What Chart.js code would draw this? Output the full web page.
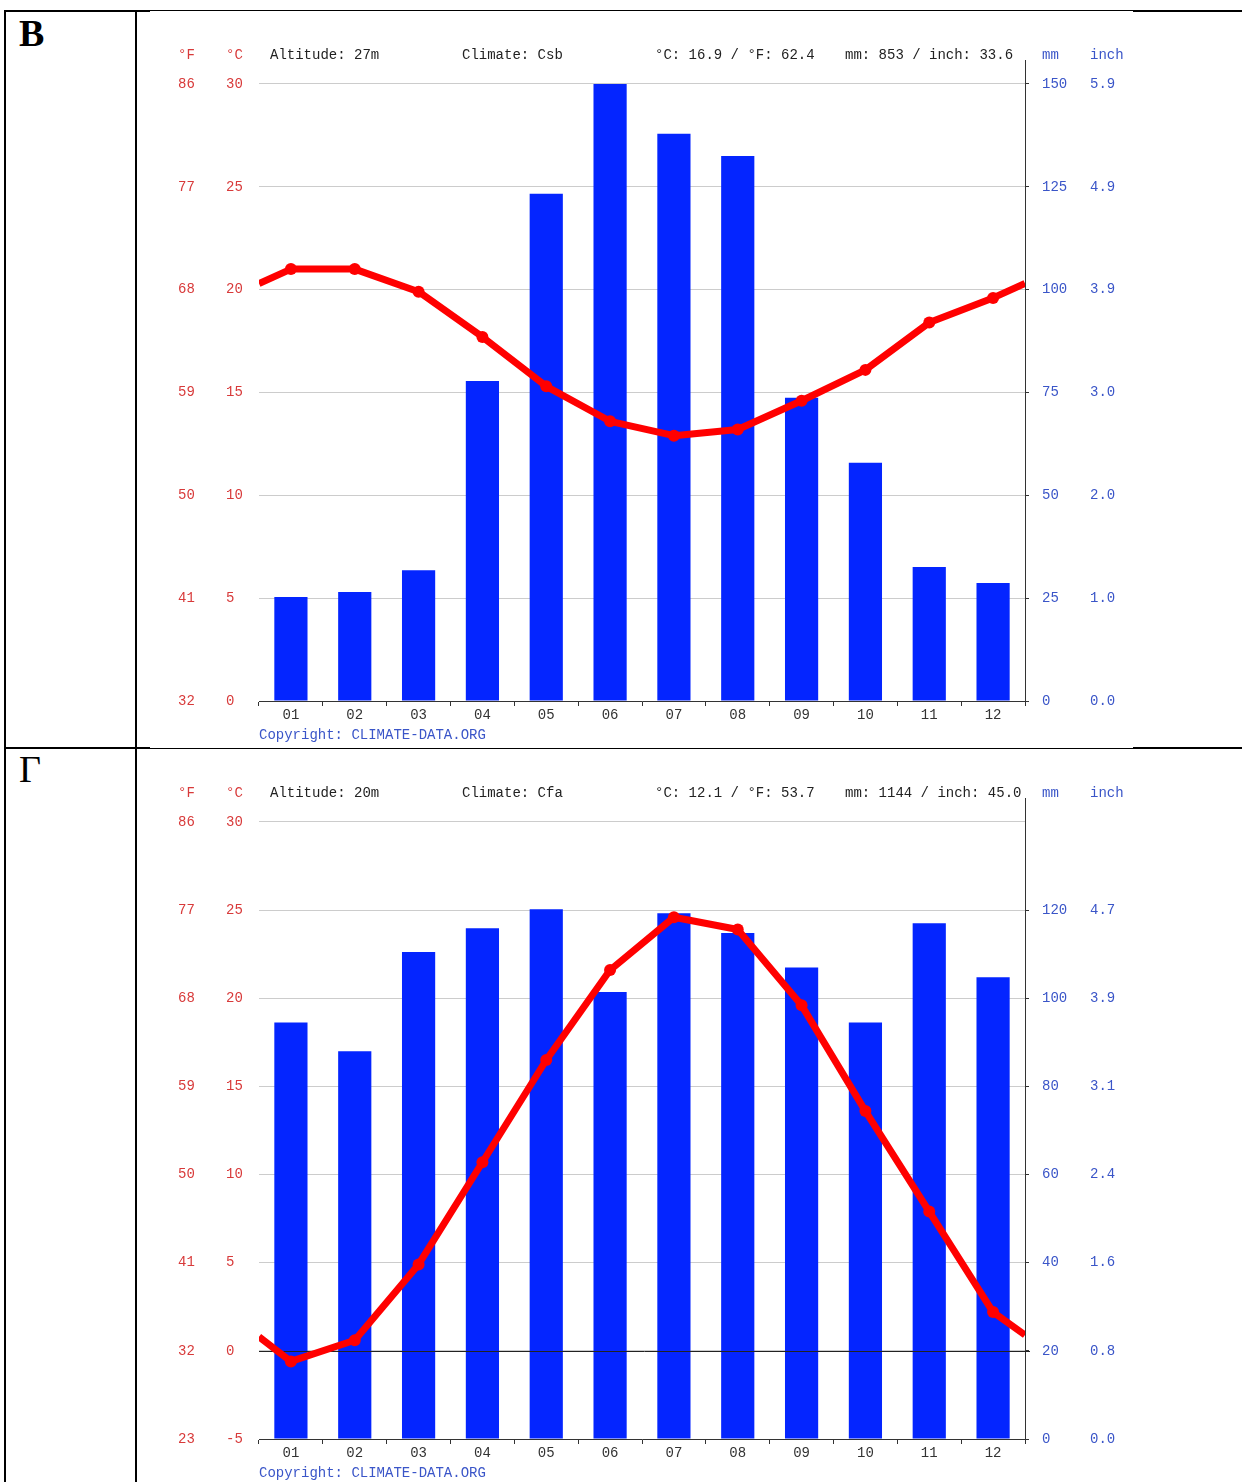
<!DOCTYPE html>
<html>
<head>
<meta charset="utf-8">
<script src="https://cdn.jsdelivr.net/npm/chart.js@4"></script>
<style>
  body { margin: 0; background: #fff; width: 1242px; height: 1482px; position: relative; overflow: hidden; font-family: "Liberation Mono", monospace; }
  .ln { position: absolute; background: #000; }
  .big { position: absolute; font-family: "Liberation Serif", serif; font-size: 38px; line-height: 1; color: #000; }
  .t { position: absolute; font-size: 14px; line-height: 14px; white-space: pre; color: #222; z-index: 2; }
  .r { color: #d83a3a; }
  .b { color: #3a55c8; }
  canvas { position: absolute; background: #fff; z-index: 1; }
</style>
</head>
<body>
<!-- table lines -->
<div class="ln" style="left:4px;top:10px;width:1238px;height:2px"></div>
<div class="ln" style="left:4px;top:10px;width:2px;height:1472px"></div>
<div class="ln" style="left:135px;top:10px;width:2px;height:1472px"></div>
<div class="ln" style="left:4px;top:747px;width:1238px;height:2px"></div>

<div class="big" style="left:19px;top:14px;font-weight:bold">В</div>
<div class="big" style="left:19px;top:750px">Г</div>

<canvas id="chartV" width="983" height="737" style="left:150px;top:11px"></canvas>
<canvas id="chartG" width="983" height="733" style="left:150px;top:749px"></canvas>

<!-- chart В header -->
<div class="t r" style="left:178px;top:48px">°F</div>
<div class="t r" style="left:226px;top:48px">°C</div>
<div class="t" style="left:270px;top:48px">Altitude: 27m</div>
<div class="t" style="left:462px;top:48px">Climate: Csb</div>
<div class="t" style="left:655px;top:48px">°C: 16.9 / °F: 62.4</div>
<div class="t" style="left:845px;top:48px">mm: 853 / inch: 33.6</div>
<div class="t b" style="left:1042px;top:48px">mm</div>
<div class="t b" style="left:1090px;top:48px">inch</div>
<div class="t b" style="left:259px;top:728px">Copyright: CLIMATE-DATA.ORG</div>

<!-- chart Г header -->
<div class="t r" style="left:178px;top:786px">°F</div>
<div class="t r" style="left:226px;top:786px">°C</div>
<div class="t" style="left:270px;top:786px">Altitude: 20m</div>
<div class="t" style="left:462px;top:786px">Climate: Cfa</div>
<div class="t" style="left:655px;top:786px">°C: 12.1 / °F: 53.7</div>
<div class="t" style="left:845px;top:786px">mm: 1144 / inch: 45.0</div>
<div class="t b" style="left:1042px;top:786px">mm</div>
<div class="t b" style="left:1090px;top:786px">inch</div>
<div class="t b" style="left:259px;top:1466px">Copyright: CLIMATE-DATA.ORG</div>

<script>
const months = ['01', '02', '03', '04', '05', '06', '07', '08', '09', '10', '11', '12'];

// chart В (Csb)
const precipV = [25.3, 26.5, 31.8, 77.8, 123.3, 150, 137.9, 132.5, 73.7, 57.9, 32.6, 28.7];
const tempV = [21.0, 21.0, 19.9, 17.7, 15.3, 13.6, 12.9, 13.2, 14.6, 16.1, 18.4, 19.6];
const edgeTempV = [20.3, 20.3];
const celsiusV = [0, 30];
const mmStepV = 25;
const mmTopLabelV = 150;

// chart Г (Cfa)
const precipG = [94.5, 88.0, 110.5, 115.9, 120.2, 101.4, 119.3, 114.8, 107.0, 94.5, 117.0, 104.8];
const tempG = [-0.6, 0.6, 4.9, 10.7, 16.5, 21.6, 24.6, 23.9, 19.6, 13.6, 7.9, 2.2];
const edgeTempG = [0.8, 0.9];
const celsiusG = [-5, 30];
const mmStepG = 20;
const mmTopLabelG = 120;

const RED = '#ff0000';
const BLUE = '#0425ff';
const RED_TXT = '#d83a3a';
const BLUE_TXT = '#3a55c8';
const head = 24 / 617; // axis line runs a bit above the top grid line

// 0 °C line drawn over the bars but under the temperature line
const zeroLine = {
  id: 'zeroLine',
  afterDatasetDraw(chart, args) {
    if (args.meta.type !== 'bar') return;
    const y = chart.scales.y;
    if (y.min >= 0) return;
    const py = Math.round(y.getPixelForValue(0)) + 0.5;
    const c = chart.ctx;
    c.save();
    c.strokeStyle = '#222';
    c.lineWidth = 1;
    c.beginPath();
    c.moveTo(chart.chartArea.left, py);
    c.lineTo(chart.chartArea.right + 5, py);
    c.stroke();
    c.restore();
  }
};

function makeChart(id, precip, temp, edge, cRange, mmStep, mmTopLabel, axisH) {
  const cMin = cRange[0], cMax = cRange[1];
  const cTop = cMax + (cMax - cMin) * head;
  const ratio = mmStep / 5;
  const mmMax = (cTop - cMin) * ratio;
  const linePts = [{x: 0, y: edge[0]}]
    .concat(temp.map((v, i) => ({x: i + 0.5, y: v})))
    .concat([{x: 12, y: edge[1]}]);
  const font = {family: 'Liberation Mono', size: 14};

  new Chart(document.getElementById(id), {
    type: 'bar',
    data: {
      labels: months,
      datasets: [
        {
          type: 'line', data: linePts, xAxisID: 'x2', yAxisID: 'y',
          borderColor: RED, backgroundColor: RED, borderWidth: 7,
          borderJoinStyle: 'round', tension: 0,
          pointRadius: c => (c.dataIndex === 0 || c.dataIndex === linePts.length - 1) ? 0 : 6,
          pointBorderWidth: 0, pointBackgroundColor: RED, order: 0
        },
        {
          type: 'bar', data: precip, xAxisID: 'x', yAxisID: 'mm', grouped: false,
          backgroundColor: BLUE, barPercentage: 0.52, categoryPercentage: 1, order: 1
        }
      ]
    },
    options: {
      responsive: false,
      animation: false,
      layout: {padding: {top: 49, left: 28, right: 0, bottom: 0}},
      plugins: {legend: {display: false}, tooltip: {enabled: false}},
      scales: {
        x: {
          type: 'category', position: 'bottom',
          grid: {drawOnChartArea: false, drawTicks: true, tickLength: 5, color: '#333', offset: true},
          border: {display: true, color: '#333'},
          ticks: {color: '#333', font, padding: 1, maxRotation: 0, autoSkip: false},
          afterFit: s => { s.height = axisH; }
        },
        x2: {type: 'linear', display: false, offset: false, min: 0, max: 12},
        y: {
          position: 'left', weight: 1, min: cMin, max: cTop,
          ticks: {stepSize: 5, includeBounds: false, crossAlign: 'far', color: RED_TXT, font, padding: 0},
          grid: {color: '#cccccc', drawTicks: false},
          border: {display: false},
          afterFit: s => { s.width = 33; }
        },
        yF: {
          position: 'left', weight: 2, min: cMin, max: cTop,
          ticks: {stepSize: 5, includeBounds: false, crossAlign: 'far', color: RED_TXT, font, padding: 0,
            callback: v => Math.round(v * 9 / 5 + 32)},
          grid: {display: false, drawTicks: false},
          border: {display: false},
          afterFit: s => { s.width = 48; }
        },
        mm: {
          position: 'right', weight: 1, min: 0, max: mmMax,
          ticks: {stepSize: mmStep, includeBounds: false, crossAlign: 'near', color: BLUE_TXT, font, padding: 13,
            callback: v => v > mmTopLabel ? '' : v},
          grid: {drawOnChartArea: false, drawTicks: true, tickLength: 4,
            color: c => (c.tick && c.tick.value > mmTopLabel) ? 'rgba(0,0,0,0)' : '#333'},
          border: {display: true, color: '#333'},
          afterFit: s => { s.width = 65; }
        },
        inch: {
          position: 'right', weight: 2, min: 0, max: mmMax,
          ticks: {stepSize: mmStep, includeBounds: false, crossAlign: 'near', color: BLUE_TXT, font, padding: 0,
            callback: v => v > mmTopLabel ? '' : (v / 25.4).toFixed(1)},
          grid: {display: false, drawTicks: false},
          border: {display: false},
          afterFit: s => { s.width = 43; }
        }
      }
    },
    plugins: [zeroLine]
  });
}

makeChart('chartV', precipV, tempV, edgeTempV, celsiusV, mmStepV, mmTopLabelV, 47);
makeChart('chartG', precipG, tempG, edgeTempG, celsiusG, mmStepG, mmTopLabelG, 43);
</script>
</body>
</html>
